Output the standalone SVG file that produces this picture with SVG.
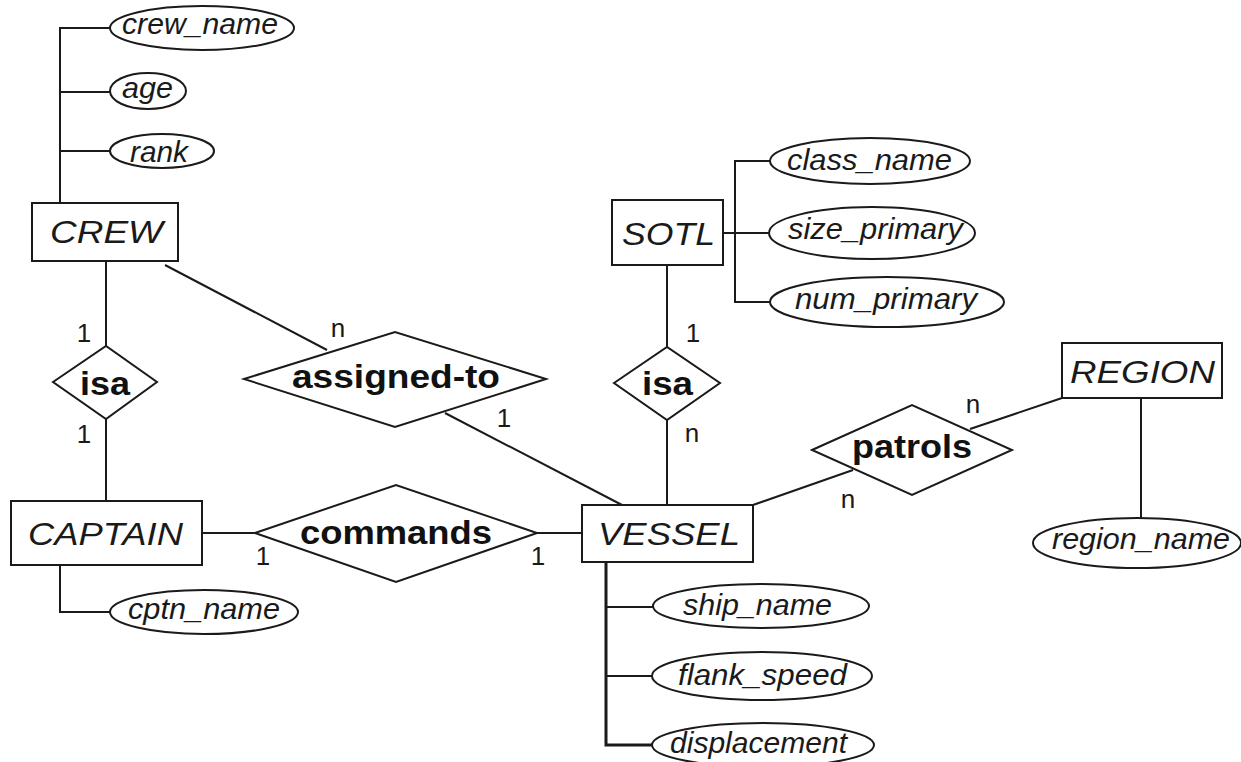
<svg xmlns="http://www.w3.org/2000/svg" width="1241" height="762" viewBox="0 0 1241 762">
<style>
.ln{stroke:#1a1a1a;stroke-width:2;fill:none}
.box{fill:#fff;stroke:#1a1a1a;stroke-width:2}
.ent{font-family:"Liberation Sans",Arial,sans-serif;font-style:italic;font-size:31px;fill:#1a1a1a}
.att{font-family:"Liberation Sans",Arial,sans-serif;font-style:italic;font-size:29px;fill:#1a1a1a}
.rel{font-family:"Liberation Sans",Arial,sans-serif;font-weight:bold;font-size:33px;fill:#111}
.num{font-family:"Liberation Sans",Arial,sans-serif;font-size:26px;fill:#1a1a1a;text-anchor:middle}
</style>
<rect width="1241" height="762" fill="#fff"/>
<g id="connectors">
<polyline class="ln" points="110,28 60,28 60,203"/>
<line class="ln" x1="60" y1="92" x2="110" y2="92"/>
<line class="ln" x1="60" y1="151" x2="110" y2="151"/>
<line class="ln" x1="106" y1="261" x2="106" y2="346"/>
<line class="ln" x1="106" y1="419" x2="106" y2="501"/>
<line class="ln" x1="165" y1="265" x2="327" y2="350"/>
<line class="ln" x1="445" y1="413" x2="622" y2="505"/>
<line class="ln" x1="202" y1="533" x2="255" y2="533"/>
<line class="ln" x1="537" y1="533" x2="582" y2="533"/>
<polyline class="ln" points="60,565 60,612 110,612"/>
<line class="ln" x1="723" y1="233" x2="770" y2="233"/>
<polyline class="ln" points="770,161 735,161 735,302 770,302"/>
<line class="ln" x1="667" y1="265" x2="667" y2="347"/>
<line class="ln" x1="667" y1="420" x2="667" y2="505"/>
<line class="ln" x1="753" y1="505" x2="853" y2="470"/>
<line class="ln" x1="970" y1="429" x2="1062" y2="398"/>
<line class="ln" x1="1141" y1="398" x2="1141" y2="519"/>
<polyline class="ln" style="stroke-width:3" points="606,562 606,745 653,745"/>
<line class="ln" x1="606" y1="607" x2="653" y2="607"/>
<line class="ln" x1="606" y1="676" x2="652" y2="676"/>
</g>
<g id="crew"><rect class="box" x="32" y="203" width="146" height="58"/><text class="ent" x="50" y="243" textLength="113" lengthAdjust="spacingAndGlyphs">CREW</text></g>
<g id="crew_name"><ellipse class="box" cx="202" cy="28" rx="92" ry="22"/><text class="att" x="122" y="34" textLength="156" lengthAdjust="spacingAndGlyphs">crew_name</text></g>
<g id="age"><ellipse class="box" cx="148" cy="91" rx="38" ry="18"/><text class="att" x="122" y="98" textLength="51" lengthAdjust="spacingAndGlyphs">age</text></g>
<g id="rank"><ellipse class="box" cx="162" cy="151" rx="52" ry="17"/><text class="att" x="130" y="162" textLength="58" lengthAdjust="spacingAndGlyphs">rank</text></g>
<g id="isa1"><polygon class="box" points="53,382 106,346 157,382 106,419"/><text class="rel" x="80" y="395" textLength="50" lengthAdjust="spacingAndGlyphs">isa</text></g>
<g id="captain"><rect class="box" x="11" y="501" width="191" height="64"/><text class="ent" x="28" y="545" textLength="155" lengthAdjust="spacingAndGlyphs">CAPTAIN</text></g>
<g id="cptn_name"><ellipse class="box" cx="204" cy="612" rx="94" ry="22"/><text class="att" x="128" y="619" textLength="152" lengthAdjust="spacingAndGlyphs">cptn_name</text></g>
<g id="assigned"><polygon class="box" points="244,379 395,332 546,379 395,427"/><text class="rel" x="292" y="388" textLength="208" lengthAdjust="spacingAndGlyphs">assigned-to</text></g>
<g id="commands"><polygon class="box" points="255,533 396,485 537,533 396,582"/><text class="rel" x="300" y="544" textLength="192" lengthAdjust="spacingAndGlyphs">commands</text></g>
<g id="sotl"><rect class="box" x="612" y="200" width="111" height="65"/><text class="ent" x="622" y="245" textLength="93" lengthAdjust="spacingAndGlyphs">SOTL</text></g>
<g id="class_name"><ellipse class="box" cx="870" cy="161" rx="100" ry="23"/><text class="att" x="787" y="170" textLength="165" lengthAdjust="spacingAndGlyphs">class_name</text></g>
<g id="size_primary"><ellipse class="box" cx="872" cy="233" rx="103" ry="26"/><text class="att" x="788" y="239" textLength="175" lengthAdjust="spacingAndGlyphs">size_primary</text></g>
<g id="num_primary"><ellipse class="box" cx="887" cy="302" rx="117" ry="25"/><text class="att" x="795" y="309" textLength="182" lengthAdjust="spacingAndGlyphs">num_primary</text></g>
<g id="isa2"><polygon class="box" points="614,383 667,347 720,383 667,420"/><text class="rel" x="642" y="395" textLength="51" lengthAdjust="spacingAndGlyphs">isa</text></g>
<g id="vessel"><rect class="box" x="582" y="505" width="171" height="57"/><text class="ent" x="598" y="545" textLength="142" lengthAdjust="spacingAndGlyphs">VESSEL</text></g>
<g id="ship_name"><ellipse class="box" cx="761" cy="606" rx="108" ry="22"/><text class="att" x="683" y="615" textLength="149" lengthAdjust="spacingAndGlyphs">ship_name</text></g>
<g id="flank_speed"><ellipse class="box" cx="762" cy="676" rx="110" ry="24"/><text class="att" x="678" y="685" textLength="169" lengthAdjust="spacingAndGlyphs">flank_speed</text></g>
<g id="displacement"><ellipse class="box" cx="763" cy="745" rx="111" ry="22"/><text class="att" x="670" y="753" textLength="177" lengthAdjust="spacingAndGlyphs">displacement</text></g>
<g id="patrols"><polygon class="box" points="812,450 912,405 1012,450 912,495"/><text class="rel" x="852" y="458" textLength="120" lengthAdjust="spacingAndGlyphs">patrols</text></g>
<g id="region"><rect class="box" x="1062" y="343" width="160" height="55"/><text class="ent" x="1070" y="383" textLength="145" lengthAdjust="spacingAndGlyphs">REGION</text></g>
<g id="region_name"><ellipse class="box" cx="1137" cy="543" rx="104" ry="25"/><text class="att" x="1052" y="549" textLength="178" lengthAdjust="spacingAndGlyphs">region_name</text></g>
<g id="labels">
<text class="num" x="84" y="342">1</text>
<text class="num" x="84" y="443">1</text>
<text class="num" x="338" y="337">n</text>
<text class="num" x="504" y="427">1</text>
<text class="num" x="263" y="565">1</text>
<text class="num" x="538" y="565">1</text>
<text class="num" x="693" y="342">1</text>
<text class="num" x="692" y="442">n</text>
<text class="num" x="848" y="508">n</text>
<text class="num" x="973" y="413">n</text>
</g>
</svg>
